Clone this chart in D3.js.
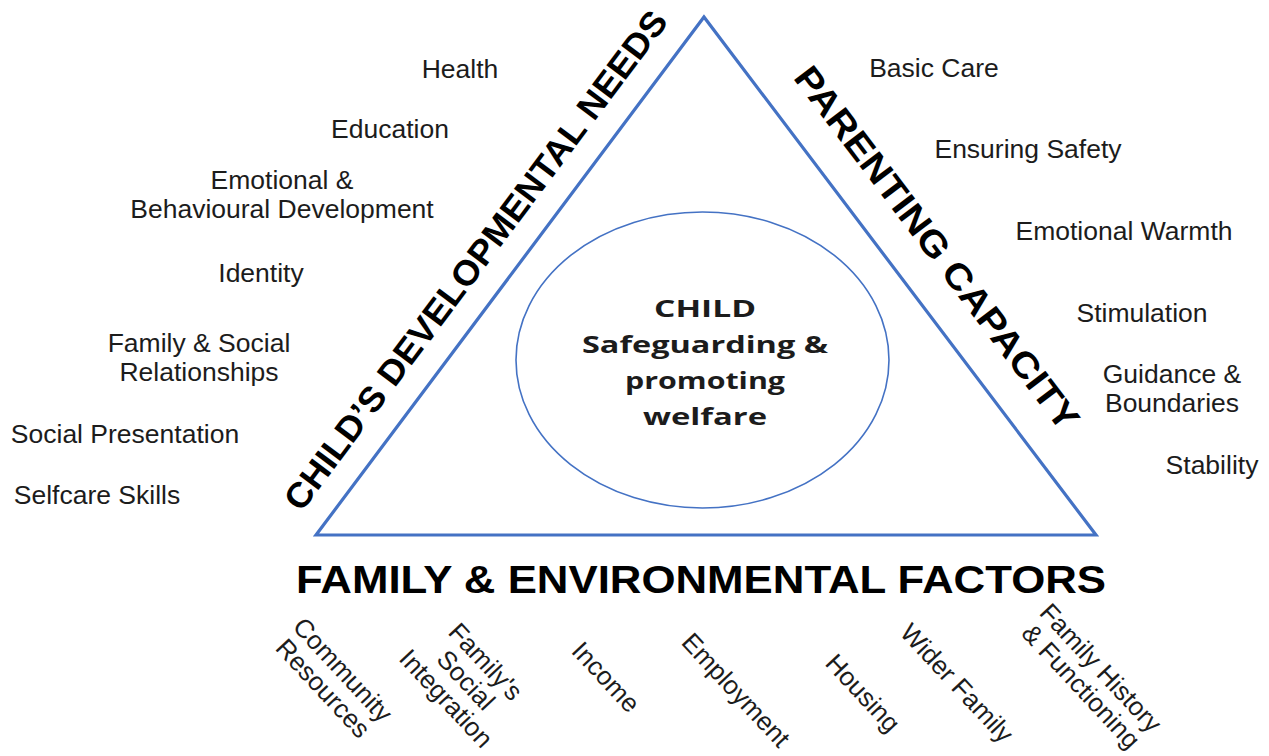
<!DOCTYPE html>
<html>
<head>
<meta charset="utf-8">
<script src="https://cdn.jsdelivr.net/npm/d3@7"></script>
<style>
  body { margin: 0; background: #fff; }
  svg { display: block; }
</style>
</head>
<body>
<div class="diagram"></div>
<script>
// triangle side titles
const sideTitles = ["CHILD\u2019S DEVELOPMENTAL NEEDS", "PARENTING CAPACITY", "FAMILY & ENVIRONMENTAL FACTORS"];
// centre of the triangle
const centreLines = ["CHILD", "Safeguarding &", "promoting", "welfare"];
// domains (lines split with \n)
const needsLabels = ["Health", "Education", "Emotional &\nBehavioural Development", "Identity",
                     "Family & Social\nRelationships", "Social Presentation", "Selfcare Skills"];
const parentingLabels = ["Basic Care", "Ensuring Safety", "Emotional Warmth", "Stimulation",
                         "Guidance &\nBoundaries", "Stability"];
const familyLabels = ["Community\nResources", "Family's\nSocial\nIntegration", "Income", "Employment",
                      "Housing", "Wider Family", "Family History\n& Functioning"];

// where each label sits (x centre, first baseline)
const needsAnchors = [[460, 78], [390, 138], [282, 189], [261, 282], [199, 352], [125, 443], [97, 504]];
const parentingAnchors = [[934, 77], [1028, 158], [1124, 240], [1142, 322], [1172, 383], [1212, 474]];
const familyAnchors = [[333, 679], [466, 680], [606, 677], [736, 690], [863, 693], [957, 683], [1091, 677]];

var width = 1269, height = 756;
var blue = "#4472c4", ink = "#1c1c1c";
var font = "'Liberation Sans', Arial, sans-serif";

var svg = d3.select(".diagram").append("svg")
    .attr("width", width)
    .attr("height", height);

// unit triangle -> page
var x = d3.scaleLinear().domain([0, 1]).range([316, 1096]);
var y = d3.scaleLinear().domain([0, 1]).range([535, 17]);
var corners = [[0, 0], [0.4974, 1], [1, 0]];
var pts = corners.map(function(c) { return [x(c[0]), y(c[1])]; });

svg.append("path")
    .attr("d", d3.line()(pts) + "Z")
    .attr("fill", "none")
    .attr("stroke", blue)
    .attr("stroke-width", 3.2)
    .attr("stroke-linejoin", "miter");

// centre ellipse
svg.append("ellipse")
    .attr("cx", x(0.4955)).attr("cy", 360)
    .attr("rx", 186.5).attr("ry", 148)
    .attr("fill", "none")
    .attr("stroke", blue)
    .attr("stroke-width", 1.6);

svg.append("g").selectAll("text")
    .data(centreLines)
    .enter().append("text")
    .attr("x", 705)
    .attr("y", function(d, i) { return 317 + i * 36; })
    .attr("text-anchor", "middle")
    .attr("font-family", "'Open Sans', 'Noto Sans', sans-serif")
    .attr("font-weight", 700)
    .attr("font-size", 24)
    .attr("fill", ink)
    .attr("textLength", function(d, i) { return [102, 246, 160, 124][i]; })
    .attr("lengthAdjust", "spacingAndGlyphs")
    .text(function(d) { return d; });

// titles along the two slanted sides
function sideTitle(a, b, txt, off, shift, len, size) {
    var dx = b[0] - a[0], dy = b[1] - a[1];
    var L = Math.hypot(dx, dy);
    var ux = dx / L, uy = dy / L;
    var nx = uy, ny = -ux;   // normal pointing away from the triangle
    var mx = (a[0] + b[0]) / 2 + nx * off + ux * shift,
        my = (a[1] + b[1]) / 2 + ny * off + uy * shift;
    var ang = Math.atan2(dy, dx) * 180 / Math.PI;
    svg.append("text")
        .attr("transform", "translate(" + mx + "," + my + ") rotate(" + ang + ")")
        .attr("text-anchor", "middle")
        .attr("font-family", font)
        .attr("font-weight", 700)
        .attr("font-size", size)
        .attr("fill", "#000")
        .attr("textLength", len)
        .attr("lengthAdjust", "spacingAndGlyphs")
        .text(txt);
}
sideTitle(pts[0], pts[1], sideTitles[0], 25, -8, 614, 35);
sideTitle(pts[1], pts[2], sideTitles[1], 34, 0, 446, 36);

svg.append("text")
    .attr("x", 701).attr("y", 593)
    .attr("text-anchor", "middle")
    .attr("font-family", font)
    .attr("font-weight", 700)
    .attr("font-size", 38)
    .attr("fill", "#000")
    .attr("textLength", 810)
    .attr("lengthAdjust", "spacingAndGlyphs")
    .text(sideTitles[2]);

// upright label lists
function labelList(labels, anchors) {
    var g = svg.append("g")
        .attr("font-family", font)
        .attr("font-size", 26.5)
        .attr("fill", ink)
        .attr("text-anchor", "middle");
    labels.forEach(function(lab, i) {
        var t = g.append("text")
            .attr("x", anchors[i][0])
            .attr("y", anchors[i][1]);
        lab.split("\n").forEach(function(line, j) {
            t.append("tspan")
                .attr("x", anchors[i][0])
                .attr("dy", j === 0 ? 0 : 28.5)
                .text(line);
        });
    });
}
labelList(needsLabels, needsAnchors);
labelList(parentingLabels, parentingAnchors);

// slanted labels under the base
var fg = svg.append("g")
    .attr("font-family", font)
    .attr("font-size", 26)
    .attr("fill", ink)
    .attr("text-anchor", "middle");
familyLabels.forEach(function(lab, i) {
    var lines = lab.split("\n");
    var t = fg.append("text")
        .attr("transform", "translate(" + familyAnchors[i][0] + "," + familyAnchors[i][1] + ") rotate(47)");
    lines.forEach(function(line, j) {
        t.append("tspan")
            .attr("x", 0)
            .attr("y", (j - (lines.length - 1) / 2) * 27 + 9)
            .text(line);
    });
});
</script>
</body>
</html>
